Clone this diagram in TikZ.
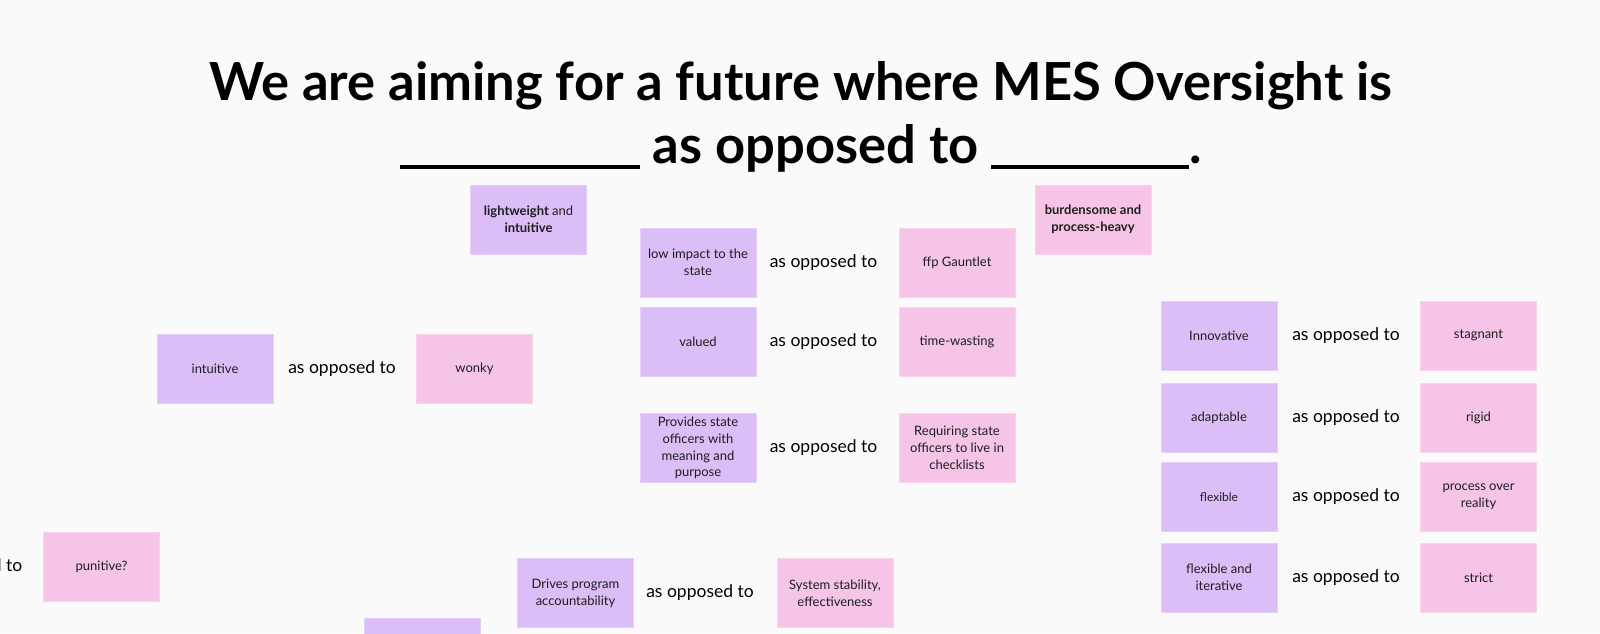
\documentclass[tikz,border=0pt]{standalone}
\usepackage{fontspec}
\setmainfont{Lato}
\definecolor{bg}{HTML}{FAFAFA}
\definecolor{purp}{HTML}{DBBDF8}
\definecolor{pink}{HTML}{F6C4E6}
\definecolor{purpb}{HTML}{E4CEFA}
\definecolor{pinkb}{HTML}{F9D3EC}
\definecolor{ink}{HTML}{1E1E1E}
\tikzset{
  card/.style={minimum width=116pt, minimum height=69pt, inner sep=2pt, align=center,
    font=\fontsize{13}{16.8}\selectfont, text=ink, line width=0.8pt},
  pro/.style={card, fill=purp, draw=purpb},
  con/.style={card, fill=pink, draw=pinkb},
  aso/.style={font=\fontsize{17.5}{20}\selectfont, text=black, inner sep=0pt},
  ttl/.style={font=\fontsize{52.5}{60}\bfseries\selectfont, text=black, inner sep=0pt, anchor=base},
}
\begin{document}
\begin{tikzpicture}[x=1pt,y=-1pt]
\fill[bg] (0,0) rectangle (1600,633);
\useasboundingbox (0,0) rectangle (1600,633);
% title
\node[ttl] (t1) at (801,100) {We are aiming for a future where MES Oversight is};
\node[ttl] (t2) at (801,163) {\rule[-6.3pt]{240pt}{4.3pt} as opposed to \rule[-6.3pt]{198pt}{4.3pt}.};
% header cards
\node[pro] (light) at (528.5,219.5) {\textbf{lightweight} and\\\textbf{intuitive}};
\node[con] (burden) at (1093,219.5) {\textbf{burdensome and}\\\textbf{process-heavy}};
% middle column
\node[pro] (low) at (698,262.5) {low impact to the\\state};
\node[aso] (a1) at (823.5,262.5) {as opposed to};
\node[con] (ffp) at (957,262.5) {ffp Gauntlet};
\node[pro] (valued) at (698,342) {valued};
\node[aso] (a2) at (823.5,342) {as opposed to};
\node[con] (time) at (957,342) {time-wasting};
\node[pro] (prov) at (698,448) {Provides state\\officers with\\meaning and\\purpose};
\node[aso] (a3) at (823.5,448) {as opposed to};
\node[con] (req) at (957,448) {Requiring state\\officers to live in\\checklists};
% left
\node[pro] (intu) at (215,368.5) {intuitive};
\node[aso] (a4) at (342,368.5) {as opposed to};
\node[con] (wonky) at (474.5,368.5) {wonky};
\node[aso, anchor=east] (a5) at (22.5,567) {as opposed to};
\node[con] (pun) at (101.5,567) {punitive?};
% bottom
\node[pro] (drives) at (575.5,593) {Drives program\\accountability};
\node[aso] (a6) at (700,593) {as opposed to};
\node[con] (sys) at (835,593) {System stability,\\effectiveness};
\node[pro] (part) at (422,652.5) {};
% right column
\node[pro] (innov) at (1219,335.5) {Innovative};
\node[aso] (a7) at (1346,335.5) {as opposed to};
\node[con] (stag) at (1478.5,335.5) {stagnant};
\node[pro] (adapt) at (1219,417.5) {adaptable};
\node[aso] (a8) at (1346,417.5) {as opposed to};
\node[con] (rigid) at (1478.5,417.5) {rigid};
\node[pro, font=\fontsize{12}{16.8}\selectfont] (flex) at (1219,497) {flexible};
\node[aso] (a9) at (1346,497) {as opposed to};
\node[con] (proc) at (1478.5,497) {process over\\reality};
\node[pro] (flexit) at (1219,577.5) {flexible and\\iterative};
\node[aso] (a10) at (1346,577.5) {as opposed to};
\node[con] (strict) at (1478.5,577.5) {strict};
\end{tikzpicture}
\end{document}
